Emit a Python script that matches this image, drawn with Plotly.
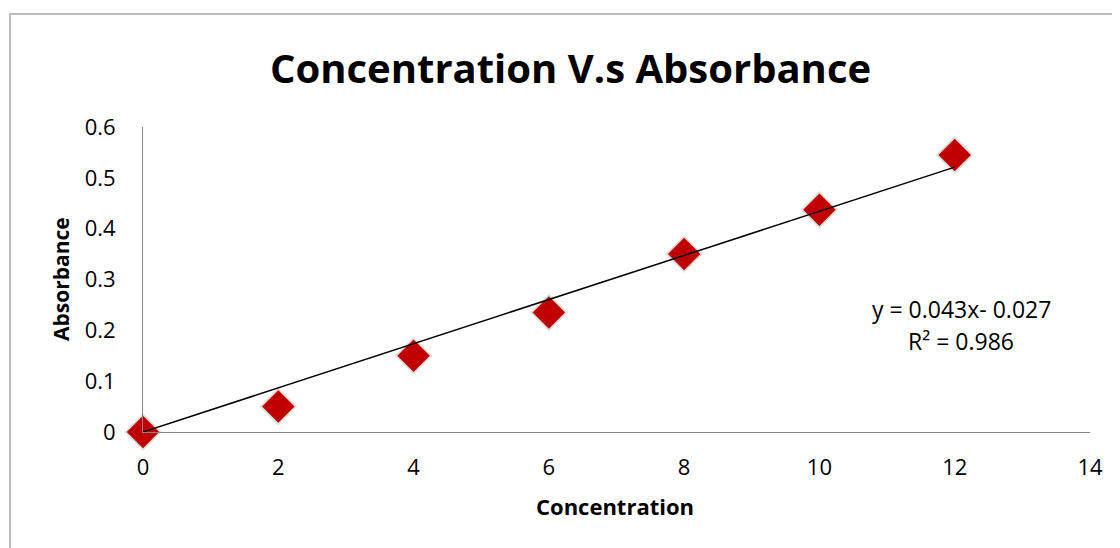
import plotly.graph_objects as go

concentration = [0, 2, 4, 6, 8, 10, 12]
absorbance = [0.0, 0.05, 0.15, 0.235, 0.35, 0.437, 0.545]
trend_x = [0, 12]
trend_y = [0.0, 0.521]
x_ticks = [0, 2, 4, 6, 8, 10, 12, 14]
y_ticks = [0, 0.1, 0.2, 0.3, 0.4, 0.5, 0.6]
y_tick_labels = ["0", "0.1", "0.2", "0.3", "0.4", "0.5", "0.6"]

OFF = 8  # page body margin
W, H = 1120 - OFF, 548 - OFF
L, R, T, B = 143 - OFF, 30, 127 - OFF, 116
pw, ph = W - L - R, H - T - B

def px(x):
    return (x - OFF - L) / pw

def py(y):
    return (H - B - (y - OFF)) / ph

FONT = "Open Sans"
TICK = 22

fig = go.Figure()
fig.add_trace(go.Scatter(
    x=concentration, y=absorbance, mode="markers",
    marker=dict(symbol="diamond", size=29, color="rgba(0,0,0,0.13)", line=dict(width=0)),
    hoverinfo="skip", showlegend=False, cliponaxis=False))
fig.add_trace(go.Scatter(
    x=concentration, y=absorbance, mode="markers",
    marker=dict(symbol="diamond", size=25, color="#C00000", line=dict(width=0)),
    showlegend=False, cliponaxis=False))
fig.add_trace(go.Scatter(
    x=trend_x, y=trend_y, mode="lines",
    line=dict(color="black", width=1.5), showlegend=False, cliponaxis=False))

fig.update_layout(
    width=W, height=H,
    margin=dict(l=L, r=R, t=T, b=B, autoexpand=False),
    paper_bgcolor="white", plot_bgcolor="white",
    font=dict(family=FONT, color="black", size=TICK),
    xaxis=dict(range=[0, 14], tickvals=x_ticks, showgrid=False, zeroline=False,
               showline=True, linecolor="#868686", linewidth=1, ticks="",
               ticklabelstandoff=16, tickfont=dict(size=TICK, family=FONT)),
    yaxis=dict(range=[0, 0.6], tickvals=y_ticks, ticktext=y_tick_labels, showgrid=False,
               zeroline=False, showline=True, linecolor="#868686", linewidth=1, ticks="",
               ticklabelstandoff=22, tickfont=dict(size=TICK, family=FONT)),
    shapes=[dict(type="rect", xref="paper", yref="paper",
                 x0=px(10), x1=px(1140), y0=py(570), y1=py(14),
                 line=dict(color="#A6A6A6", width=1.5), fillcolor="rgba(0,0,0,0)", layer="below")],
    annotations=[
        dict(text="<b>Concentration V.s Absorbance</b>", xref="paper", yref="paper",
             x=px(570), y=py(67), showarrow=False, font=dict(size=40, family=FONT),
             xanchor="center", yanchor="middle"),
        dict(text="<b>Concentration</b>", xref="paper", yref="paper",
             x=px(615), y=py(506), showarrow=False, font=dict(size=22, family=FONT),
             xanchor="center", yanchor="middle"),
        dict(text="<b>Absorbance</b>", xref="paper", yref="paper", textangle=-90,
             x=px(61), y=py(279), showarrow=False, font=dict(size=21, family=FONT),
             xanchor="center", yanchor="middle"),
        dict(text="y = 0.043x- 0.027", xref="paper", yref="paper",
             x=px(961), y=py(309), showarrow=False, font=dict(size=23, family=FONT),
             xanchor="center", yanchor="middle"),
        dict(text="R² = 0.986", xref="paper", yref="paper",
             x=px(961), y=py(341), showarrow=False, font=dict(size=23, family=FONT),
             xanchor="center", yanchor="middle"),
    ],
)

fig.write_html("out.html")
